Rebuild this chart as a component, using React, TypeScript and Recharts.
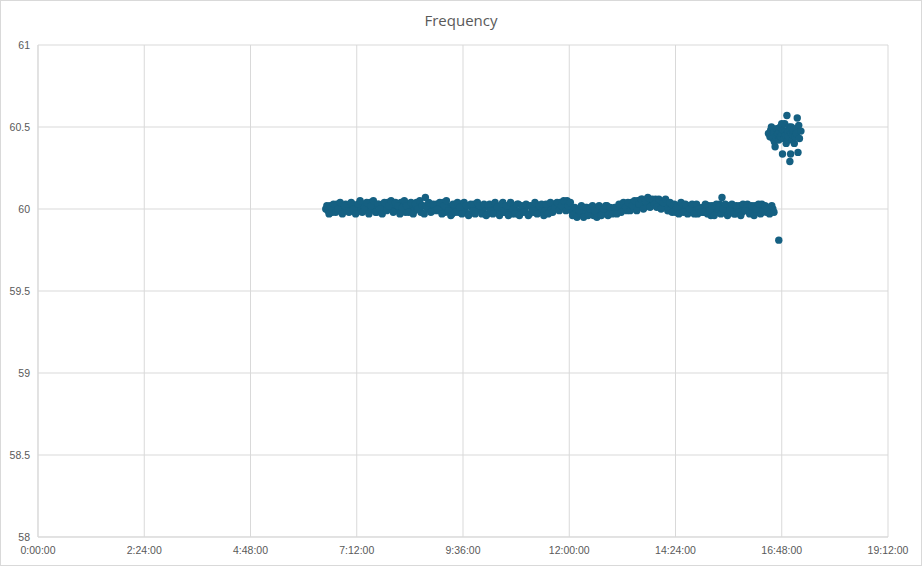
import { ScatterChart, Scatter, XAxis, YAxis, CartesianGrid } from 'recharts';

// frequency log, two interleaved meters, one reading every 3 minutes each
const METER_A_START = 390;
const METER_B_START = 391.5;
const SAMPLE_MIN = 3;

const meterA0630 = [60.00, 59.99, 60.02, 59.98, 60.01, 60.03, 59.99, 60.02, 60.00, 60.03];
const meterA0700 = [60.02, 59.99, 60.03, 60.01, 59.98, 60.02, 60.00, 60.03, 59.99, 60.01, 60.04, 60.00, 60.02, 59.98, 60.03, 60.01, 59.99, 60.02, 60.04, 60.00];
const meterA0800 = [60.01, 60.03, 59.99, 60.02, 60.04, 60.00, 59.98, 60.03, 60.01, 60.02, 59.99, 60.04, 60.01, 59.98, 60.02, 60.07, 60.00, 60.03, 59.99, 60.02];
const meterA0900 = [60.03, 59.99, 60.01, 60.04, 59.98, 60.02, 60.00, 59.97, 60.02, 60.01, 59.98, 60.03, 60.00, 59.99, 60.02, 59.97, 60.01, 60.03, 59.99, 60.00];
const meterA1000 = [60.02, 59.98, 60.01, 59.97, 60.03, 60.00, 59.98, 60.02, 59.99, 60.01, 60.04, 59.98, 60.00, 60.02, 59.97, 60.01, 59.99, 60.03, 59.98, 60.00];
const meterA1100 = [59.99, 60.02, 59.97, 60.01, 59.98, 60.03, 60.00, 59.98, 60.01, 59.99, 60.02, 59.98, 60.00, 60.03, 60.01, 60.02, 60.04, 60.01, 60.03, 60.05];
const meterA1200 = [60.02, 59.99, 59.97, 59.98, 59.96, 60.00, 59.97, 59.99, 60.01, 59.97, 59.98, 59.96, 60.00, 59.98, 60.01, 59.97, 59.99, 60.02, 59.98, 60.00];
const meterA1300 = [59.98, 60.01, 59.99, 60.02, 60.00, 60.03, 59.99, 60.01, 60.04, 60.02, 60.00, 60.05, 60.02, 60.06, 60.01, 60.03, 60.05, 60.02, 60.04, 60.06];
const meterA1400 = [60.03, 60.05, 60.01, 60.04, 60.02, 59.99, 60.03, 60.01, 59.98, 60.02, 60.00, 60.03, 59.99, 60.01, 60.02, 59.98, 60.00, 60.01, 59.97, 60.00];
const meterA1500 = [60.01, 59.98, 60.00, 60.02, 59.96, 59.99, 60.01, 59.98, 60.03, 60.07, 60.00, 59.98, 60.02, 59.99, 60.01, 59.97, 60.00, 60.02, 59.98, 60.01];
const meterA1600 = [59.99, 60.01, 59.98, 60.00, 60.02, 59.98, 60.00, 60.03, 59.99, 59.98, 60.01, 59.99, 60.00];

const meterB0630 = [60.02, 59.97, 60.01, 60.03, 59.98, 60.00, 60.04, 59.97, 60.02, 59.99];
const meterB0700 = [59.98, 60.04, 60.00, 59.97, 60.03, 60.05, 59.98, 60.01, 60.04, 59.97, 60.02, 60.05, 59.98, 60.03, 60.00, 59.97, 60.04, 59.99, 60.02, 60.05];
const meterB0800 = [59.98, 60.04, 60.02, 59.97, 60.01, 60.05, 60.02, 59.98, 60.04, 59.97, 60.03, 60.00, 60.05, 60.02, 59.97, 60.01, 60.04, 59.98, 60.03, 59.99];
const meterB0900 = [60.00, 60.04, 59.97, 60.02, 60.05, 59.99, 59.96, 60.03, 59.98, 60.04, 60.01, 59.97, 60.04, 60.02, 59.96, 60.03, 59.99, 59.97, 60.04, 60.02];
const meterB1000 = [59.97, 60.03, 59.96, 60.02, 59.99, 59.97, 60.04, 60.01, 59.96, 60.03, 59.98, 60.02, 59.96, 60.04, 60.00, 59.97, 60.03, 59.96, 60.02, 59.98];
const meterB1100 = [60.03, 59.96, 60.02, 59.99, 60.04, 59.97, 60.02, 60.03, 59.96, 60.03, 59.97, 60.04, 59.98, 60.01, 60.04, 59.99, 60.02, 60.05, 59.99, 60.02];
const meterB1200 = [60.04, 59.96, 60.01, 59.95, 59.99, 60.02, 59.95, 60.01, 59.96, 60.00, 60.02, 59.99, 59.95, 60.02, 59.96, 60.00, 60.02, 59.96, 60.01, 59.97];
const meterB1300 = [60.01, 59.97, 60.03, 59.98, 60.04, 60.01, 60.04, 59.99, 60.02, 60.05, 59.99, 60.03, 60.06, 60.00, 60.05, 60.07, 60.01, 60.06, 60.03, 60.01];
const meterB1400 = [60.06, 60.00, 60.04, 60.06, 59.99, 60.04, 59.98, 60.03, 60.01, 59.97, 60.04, 59.98, 60.03, 59.97, 60.00, 60.03, 59.97, 60.03, 60.00, 59.98];
const meterB1500 = [59.98, 60.03, 59.97, 59.99, 60.02, 59.96, 60.03, 60.01, 59.97, 60.00, 60.03, 59.96, 59.99, 60.03, 59.97, 60.02, 59.98, 59.96, 60.03, 59.99];
const meterB1600 = [60.03, 59.97, 60.02, 59.96, 60.00, 60.03, 59.97, 59.99, 60.02, 60.00, 59.97, 60.02, 59.98];

// after 16:30 (minutes since midnight, Hz)
const tailMinutes = [990, 992, 993, 994, 995, 996, 997, 998, 999, 1000, 1001, 1002, 1003, 1004, 1004, 1005, 1006, 1006, 1007, 1008, 1008, 1009, 1010, 1011, 1012, 1012, 1013, 1014, 1015, 1016, 1016, 1017, 1018, 1019, 1019, 1020, 1021, 1021, 1022, 1023, 1024, 1025, 1026, 1027, 1028, 1029, 1030, 1031, 1032, 1034];
const tailValues = [60.46, 60.44, 60.48, 60.50, 60.45, 60.43, 60.47, 60.41, 60.38, 60.44, 60.49, 60.45, 60.46, 59.81, 60.42, 60.47, 60.50, 60.44, 60.44, 60.46, 60.52, 60.335, 60.48, 60.43, 60.52, 60.47, 60.45, 60.40, 60.57, 60.47, 60.42, 60.44, 60.50, 60.29, 60.48, 60.335, 60.46, 60.50, 60.42, 60.45, 60.48, 60.40, 60.44, 60.49, 60.46, 60.555, 60.345, 60.51, 60.43, 60.475];

const xTicks = [0, 144, 288, 432, 576, 720, 864, 1008, 1152];
const yTicks = [58, 58.5, 59, 59.5, 60, 60.5, 61];

const meterA = [
  ...meterA0630, ...meterA0700, ...meterA0800, ...meterA0900, ...meterA1000, ...meterA1100,
  ...meterA1200, ...meterA1300, ...meterA1400, ...meterA1500, ...meterA1600,
];
const meterB = [
  ...meterB0630, ...meterB0700, ...meterB0800, ...meterB0900, ...meterB1000, ...meterB1100,
  ...meterB1200, ...meterB1300, ...meterB1400, ...meterB1500, ...meterB1600,
];
const dataA = meterA.map((v, i) => ({ t: METER_A_START + i * SAMPLE_MIN, v }));
const dataB = meterB.map((v, i) => ({ t: METER_B_START + i * SAMPLE_MIN, v }));
const tailData = tailMinutes.map((t, i) => ({ t, v: tailValues[i] }));

const DOT = '#156082';
const GRID = '#d9d9d9';
const TEXT = '#595959';
const FONT = '"Liberation Sans", Arial, sans-serif';

function fmtClock(min: number): string {
  const h = Math.floor(min / 60);
  const m = Math.round(min % 60);
  return `${h}:${m.toString().padStart(2, '0')}:00`;
}

const Dot = (p: any) => <circle cx={p.cx} cy={p.cy} r={3.7} fill={DOT} />;

export default function App() {
  return (
    <div style={{
      position: 'absolute', left: 0, top: 0, width: 922, height: 566,
      boxSizing: 'border-box', border: `1px solid ${GRID}`, background: '#fff',
    }}>
      <div style={{
        position: 'absolute', left: -1, top: 9, width: 922, textAlign: 'center',
        fontFamily: '"Open Sans", sans-serif', fontSize: 15, color: TEXT,
      }}>
        Frequency
      </div>
      <div style={{ position: 'absolute', left: -1, top: -1 }}>
        <ScatterChart width={922} height={566} margin={{ top: 45, right: 34, bottom: 0, left: 0 }}>
          <CartesianGrid stroke={GRID} />
          <XAxis
            type="number" dataKey="t" domain={[0, 1152]} ticks={xTicks}
            tickFormatter={fmtClock} axisLine={{ stroke: GRID }} tickLine={false}
            height={29} tickMargin={4} interval={0}
            tick={{ fill: TEXT, fontSize: 10.5, fontFamily: FONT }}
          />
          <YAxis
            type="number" dataKey="v" domain={[58, 61]} ticks={yTicks}
            axisLine={{ stroke: GRID }} tickLine={false} width={38} interval={0}
            tick={{ fill: TEXT, fontSize: 10.5, fontFamily: FONT }}
          />
          <Scatter data={dataA} fill={DOT} shape={Dot} isAnimationActive={false} />
          <Scatter data={dataB} fill={DOT} shape={Dot} isAnimationActive={false} />
          <Scatter data={tailData} fill={DOT} shape={Dot} isAnimationActive={false} />
        </ScatterChart>
      </div>
    </div>
  );
}
